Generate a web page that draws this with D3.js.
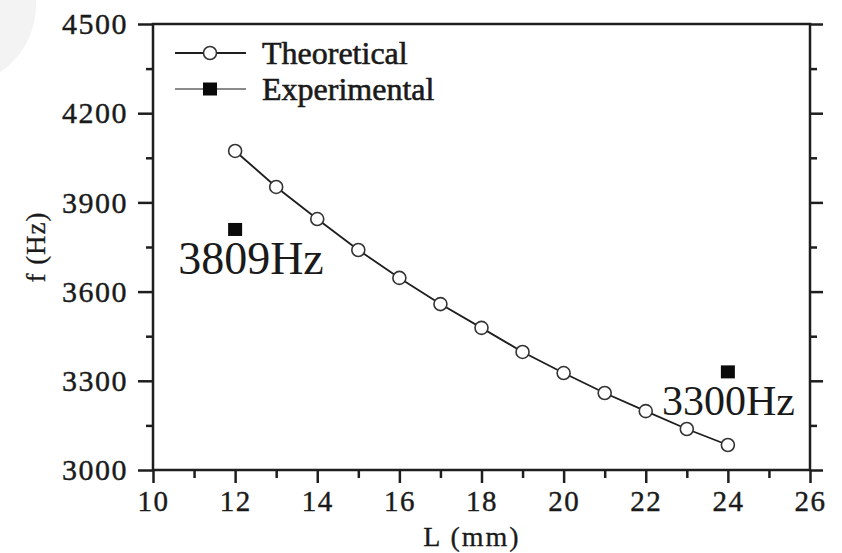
<!DOCTYPE html>
<html>
<head>
<meta charset="utf-8">
<script src="https://cdn.jsdelivr.net/npm/d3@7/dist/d3.min.js"></script>
<style>
  html, body { margin: 0; padding: 0; background: #fff; }
  svg { display: block; }
</style>
</head>
<body>
<svg id="chart" width="842" height="553"></svg>
<script>
// data
const lengths = [12, 13, 14, 15, 16, 17, 18, 19, 20, 21, 22, 23, 24];
const theoretical = [4073, 3952, 3844, 3740, 3646, 3558, 3478, 3397, 3326, 3259, 3198, 3138, 3084];
const expLengths = [12, 24];
const experimental = [3809, 3330];
const expLabels = ['3809Hz', '3300Hz'];
const xTicks = [10, 12, 14, 16, 18, 20, 22, 24, 26];
const yTicks = [3000, 3300, 3600, 3900, 4200, 4500];
const seriesNames = ['Theoretical', 'Experimental'];

const serif = "'Liberation Serif', 'Times New Roman', Times, serif";
const svg = d3.select('#chart');
const margin = { left: 153, right: 32, top: 24, bottom: 83 };
const width = 842, height = 553;

// faint watermark disc in the corner
svg.append('circle')
    .attr('cx', -45)
    .attr('cy', 5)
    .attr('r', 81)
    .attr('fill', '#f3f3f3');

const x = d3.scaleLinear().domain([10, 26]).range([margin.left, width - margin.right]);
const y = d3.scaleLinear().domain([3000, 4500]).range([height - margin.bottom, margin.top]);

const ink = '#1e1e1e';

const setFont = (sel, size, weight) => sel
    .style('font-family', serif)
    .style('font-size', size + 'px')
    .style('fill', '#1a1a1a')
    .style('stroke', '#1a1a1a')
    .style('stroke-width', (weight || 0) + 'px');

/**
 * draw one axis with major + minor ticks
 */
const drawAxis = (axisFn, scale, ticks, minor, transform, tickLen, minorLen, labels) => {
    const g = svg.append('g').attr('transform', transform);
    g.call(axisFn(scale).tickValues(minor).tickSize(minorLen).tickFormat(''));
    const major = svg.append('g').attr('transform', transform);
    major.call(axisFn(scale).tickValues(ticks).tickSize(tickLen).tickPadding(10)
        .tickFormat(labels ? d3.format('d') : ''));
    [g, major].forEach(s => {
        s.select('.domain').remove();
        s.selectAll('line').attr('stroke', ink).attr('stroke-width', 2.5);
    });
    return major;
};

const xMinor = d3.range(11, 26, 2);
const yMinor = d3.range(3150, 4500, 300);

const xb = drawAxis(d3.axisBottom, x, xTicks, xMinor, `translate(0,${y(3000)})`, 13, 8, true);
setFont(xb.selectAll('text'), 29, 0.4).attr('dy', '0.62em').style('letter-spacing', '1.5px');
const yl = drawAxis(d3.axisLeft, y, yTicks, yMinor, `translate(${x(10)},0)`, 15, 7, true);
setFont(yl.selectAll('text'), 30, 0.4).style('letter-spacing', '1.5px');
drawAxis(d3.axisRight, y, yTicks, yMinor, `translate(${x(26)},0)`, 13, 7, false);

// frame
svg.append('rect')
    .attr('x', x(10)).attr('y', y(4500))
    .attr('width', x(26) - x(10)).attr('height', y(3000) - y(4500))
    .attr('fill', 'none').attr('stroke', ink).attr('stroke-width', 2.5);

// axis titles
setFont(svg.append('text'), 28, 0.3)
    .attr('x', 472)
    .attr('y', 546)
    .attr('text-anchor', 'middle')
    .style('letter-spacing', '2px')
    .text('L (mm)');

setFont(svg.append('text'), 27, 0.3)
    .attr('transform', `translate(45,${y(3750)}) rotate(-90)`)
    .attr('text-anchor', 'middle')
    .style('letter-spacing', '1px')
    .text('f (Hz)');

// theoretical curve
const pts = lengths.map((l, i) => [l, theoretical[i]]);
svg.append('path')
    .datum(pts)
    .attr('d', d3.line().x(d => x(d[0])).y(d => y(d[1])))
    .attr('fill', 'none')
    .attr('stroke', ink)
    .attr('stroke-width', 1.8);

svg.append('g').selectAll('circle')
    .data(pts)
    .join('circle')
    .attr('cx', d => x(d[0]))
    .attr('cy', d => y(d[1]))
    .attr('r', 6.5)
    .attr('fill', '#fff')
    .attr('stroke', '#333')
    .attr('stroke-width', 1.6);

// experimental points
const exp = expLengths.map((l, i) => [l, experimental[i], expLabels[i]]);
svg.append('g').selectAll('rect')
    .data(exp)
    .join('rect')
    .attr('x', d => x(d[0]) - 7)
    .attr('y', d => y(d[1]) - 6.5)
    .attr('width', 14)
    .attr('height', 13)
    .attr('fill', '#0a0a0a');

// annotations
setFont(svg.append('text'), 46)
    .attr('x', x(exp[0][0]) - 57)
    .attr('y', y(exp[0][1]) + 45)
    .text(exp[0][2]);

setFont(svg.append('text'), 42)
    .attr('x', x(exp[1][0]) - 66)
    .attr('y', y(exp[1][1]) + 43)
    .text(exp[1][2]);

// legend
const legend = svg.append('g');
const rowY = [53, 89];
legend.append('line')
    .attr('x1', 175).attr('x2', 246).attr('y1', rowY[0]).attr('y2', rowY[0])
    .attr('stroke', ink).attr('stroke-width', 2);
legend.append('circle')
    .attr('cx', 210).attr('cy', rowY[0]).attr('r', 6.5)
    .attr('fill', '#fff').attr('stroke', '#333').attr('stroke-width', 1.6);
legend.append('line')
    .attr('x1', 175).attr('x2', 246).attr('y1', rowY[1]).attr('y2', rowY[1])
    .attr('stroke', '#8a8a8a').attr('stroke-width', 2);
legend.append('rect')
    .attr('x', 203).attr('y', rowY[1] - 6.5).attr('width', 14).attr('height', 13)
    .attr('fill', '#0a0a0a');
seriesNames.forEach((name, i) => {
    setFont(legend.append('text'), 32, 0.6)
        .attr('x', 262)
        .attr('y', rowY[i] + 11)
        .text(name);
});
</script>
</body>
</html>
